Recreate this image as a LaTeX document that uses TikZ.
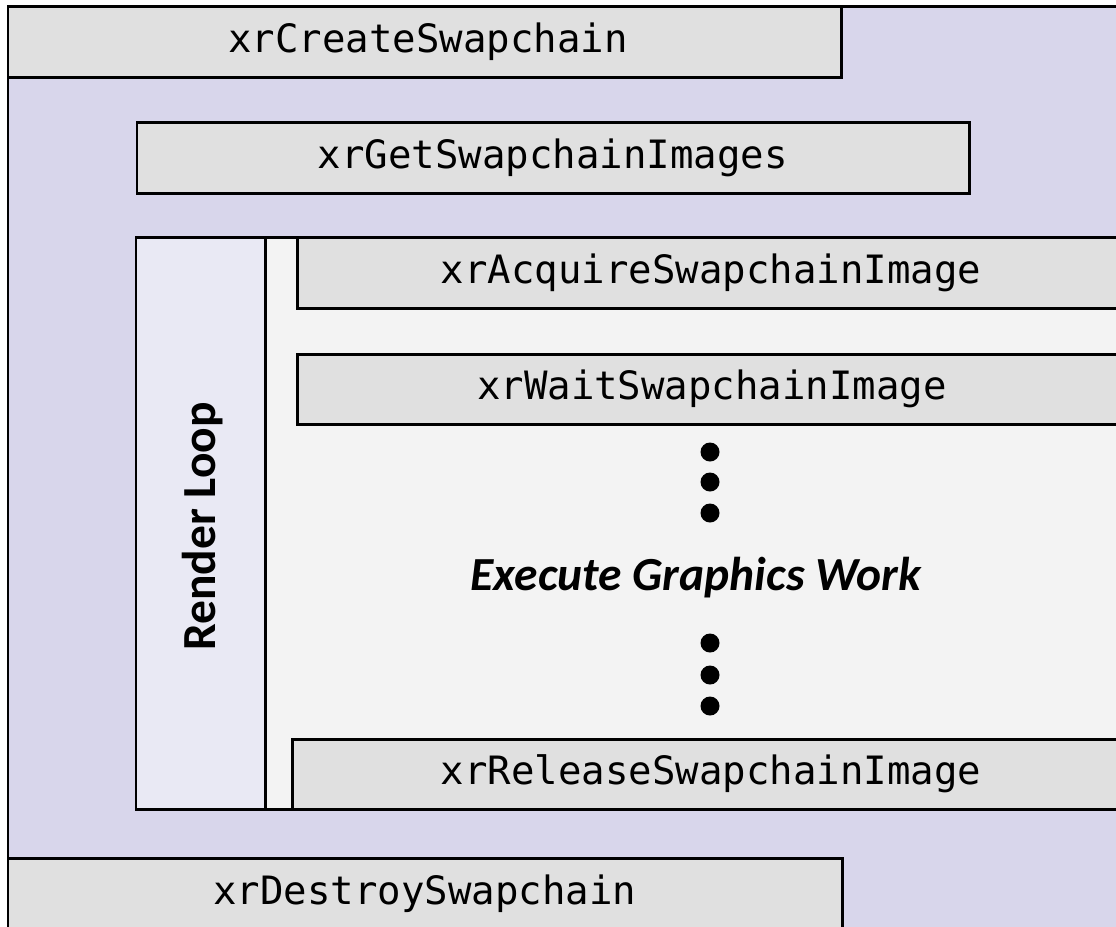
\documentclass[tikz,border=0pt]{standalone}
\usepackage{fontspec}
\setmonofont{DejaVu Sans Mono}
\setsansfont{Carlito}
\definecolor{Cframe}{HTML}{D8D6EB}
\definecolor{Cloop}{HTML}{E9E9F4}
\definecolor{Cwork}{HTML}{F3F3F3}
\definecolor{Cbox}{HTML}{E0E0E0}

\tikzset{
	frame/.style={draw=black, line width=0.85pt},
	fnbox/.style={frame, fill=Cbox},
	fnlabel/.style={font=\fontsize{11.1}{13}\selectfont\ttfamily, inner sep=0pt},
	worklabel/.style={font=\fontsize{13.5}{16}\selectfont\sffamily\bfseries, inner sep=0pt},
	bigdot/.style={circle, fill=black, inner sep=0pt, minimum size=5.4pt},
}

\begin{document}
\begin{tikzpicture}[x=0.01cm, y=-0.01cm]
		
		\useasboundingbox (0,0) rectangle (1116,926);
		\clip (0,0) rectangle (1116,926);
		
		%% outer swapchain frame
		\draw[frame, fill=Cframe] (8,6) rectangle (1140,940);
		
		%% create / get images
		\draw[fnbox] (8,6) rectangle (841,77);
		\node[fnlabel] (create) at (428,41.5) {xrCreateSwapchain};
		
		\draw[fnbox] (137,122) rectangle (969,193);
		\node[fnlabel] (getimgs) at (553,157.5) {xrGetSwapchainImages};
		
		%% ── render loop ─────────────────────────────────────────
		\draw[frame, fill=Cloop] (136,237) rectangle (265,809);
		\draw[frame, fill=Cwork] (265,237) rectangle (1140,809);
		\node[worklabel, rotate=90, anchor=base] (loop) at (215,526.5) {Render Loop};
		
		\draw[fnbox] (297,237) rectangle (1125,308);
		\node[fnlabel] (acquire) at (711,272.5) {xrAcquireSwapchainImage};
		
		\draw[fnbox] (297,354) rectangle (1127,424);
		\node[fnlabel] (wait) at (712,389) {xrWaitSwapchainImage};
		
		%% graphics work with dots above and below
		\foreach \y [count=\i] in {452,482,513,643,675,706}
		\node[bigdot] (dot\i) at (710,\y) {};
		\node[worklabel, font=\fontsize{13.5}{16}\selectfont\sffamily\bfseries\itshape, anchor=base]
		(work) at (696,590) {Execute Graphics Work};
		
		\draw[fnbox] (292,739) rectangle (1130,809);
		\node[fnlabel] (release) at (711,774) {xrReleaseSwapchainImage};
		
		%% destroy
		\draw[fnbox] (8,858) rectangle (842,940);
		\node[fnlabel] (destroy) at (425,893.5) {xrDestroySwapchain};
		
	\end{tikzpicture}
\end{document}
